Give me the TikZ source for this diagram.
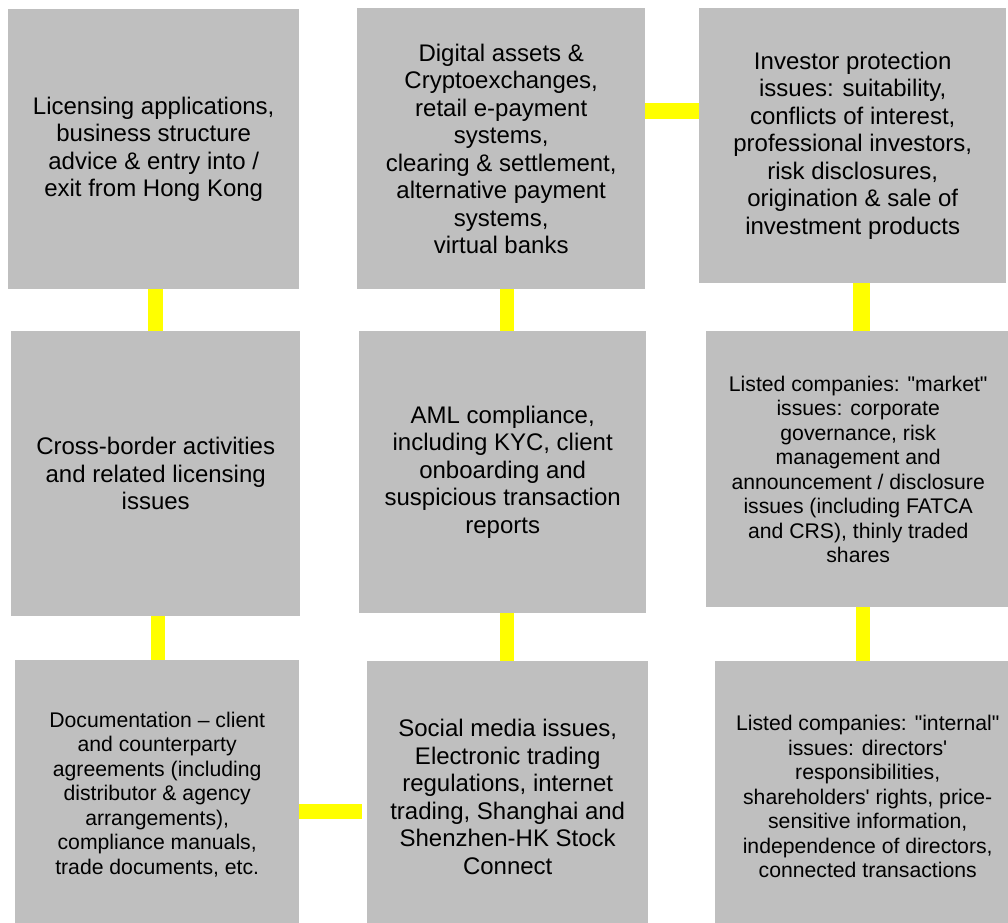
\documentclass[tikz,border=0pt]{standalone}
\usepackage{fontspec}
\newfontfamily\labelfont{Liberation Sans}
\definecolor{boxgray}{HTML}{BFBFBF}
\definecolor{connyellow}{HTML}{FFFF00}
\tikzset{
  box/.style={fill=boxgray, draw=none, inner sep=0pt, align=center, anchor=north west,
    text=black, font=\labelfont\fontsize{24}{27.5}\selectfont},
  smalltext/.style={font=\labelfont\fontsize{21.2}{24.5}\selectfont},
  conn/.style={draw=connyellow, line width=15pt},
}
\begin{document}
\begin{tikzpicture}[x=1pt,y=-1pt]
\useasboundingbox (0,0) rectangle (1008,922);
\clip (0,0) rectangle (1008,922);
% boxes
\node[box, minimum width=291pt, minimum height=280pt] (b1) at (8,9)
  {Licensing applications,\\business structure\\advice \& entry into /\\exit from Hong Kong};
\node[box, minimum width=288pt, minimum height=281pt] (b2) at (357,8)
  {Digital assets \&\\Cryptoexchanges,\\retail e-payment\\systems,\\clearing \& settlement,\\alternative payment\\systems,\\virtual banks};
\node[box, minimum width=307pt, minimum height=275pt] (b3) at (699,8)
  {Investor protection\\issues: suitability,\\conflicts of interest,\\professional investors,\\risk disclosures,\\origination \& sale of\\investment products};
\node[box, minimum width=289pt, minimum height=285pt] (b4) at (11,331)
  {Cross-border activities\\and related licensing\\issues};
\node[box, minimum width=287pt, minimum height=282pt] (b5) at (359,331)
  {AML compliance,\\including KYC, client\\onboarding and\\suspicious transaction\\reports};
\node[box, smalltext, minimum width=304pt, minimum height=276pt] (b6) at (706,331)
  {Listed companies: "market"\\issues: corporate\\governance, risk\\management and\\announcement / disclosure\\issues (including FATCA\\and CRS), thinly traded\\shares};
\node[box, smalltext, minimum width=284pt, minimum height=268pt] (b7) at (15,660)
  {Documentation – client\\and counterparty\\agreements (including\\distributor \& agency\\arrangements),\\compliance manuals,\\trade documents, etc.};
\node[box, minimum width=281pt, minimum height=271pt] (b8) at (367,661)
  {Social media issues,\\Electronic trading\\regulations, internet\\trading, Shanghai and\\Shenzhen-HK Stock\\Connect};
\node[box, smalltext, minimum width=305pt, minimum height=271pt] (b9) at (715,661)
  {Listed companies: "internal"\\issues: directors'\\responsibilities,\\shareholders' rights, price-\\sensitive information,\\independence of directors,\\connected transactions};
% connector guide coordinates
\coordinate (x14) at (155.5,0);
\coordinate (x47) at (158,0);
\coordinate (x25) at (507,0);
\coordinate (x58) at (507,0);
\coordinate (x36) at (861.5,0);
\coordinate (x69) at (863,0);
\coordinate (y23) at (0,111);
\coordinate (y78) at (0,811.5);
% connectors
\draw[conn] (b1.south -| x14) -- (b4.north -| x14);
\draw[conn, line width=14pt] (b4.south -| x47) -- (b7.north -| x47);
\draw[conn, line width=14pt] (b2.south -| x25) -- (b5.north -| x25);
\draw[conn, line width=14pt] (b5.south -| x58) -- (b8.north -| x58);
\draw[conn, line width=17pt] (b3.south -| x36) -- (b6.north -| x36);
\draw[conn, line width=14pt] (b6.south -| x69) -- (b9.north -| x69);
\draw[conn, line width=16pt] (b2.east |- y23) -- (b3.west |- y23);
\draw[conn, shorten >=5pt] (b7.east |- y78) -- (b8.west |- y78);
\end{tikzpicture}
\end{document}
